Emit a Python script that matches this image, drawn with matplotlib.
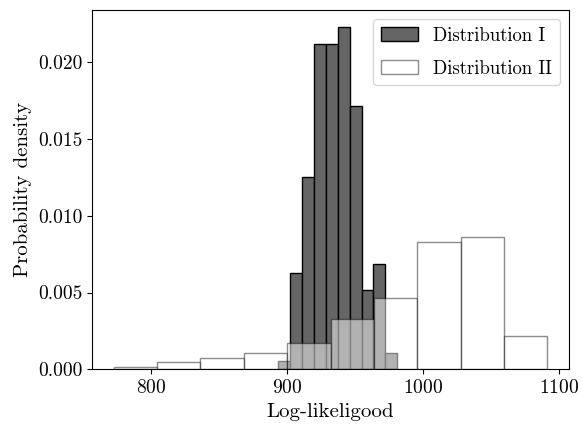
import numpy as np
import matplotlib
matplotlib.use("Agg")
import matplotlib.pyplot as plt

plt.rcParams["font.family"] = "serif"
plt.rcParams["font.serif"] = ["cmr10"]
plt.rcParams["mathtext.fontset"] = "cm"
plt.rcParams["axes.formatter.use_mathtext"] = True
plt.rcParams["font.size"] = 14

# histogram bins and densities for the two runs
edges_1 = np.linspace(893.7, 981.3, 11)
dens_1 = [0.00054, 0.00627, 0.01255, 0.02117, 0.02117,
          0.02229, 0.01716, 0.00515, 0.00684, 0.00108]

edges_2 = np.linspace(772.7, 1091.7, 11)
dens_2 = [0.00015, 0.00045, 0.00075, 0.00106, 0.00173,
          0.00327, 0.00465, 0.00829, 0.00861, 0.00216]

fig = plt.figure(figsize=(5.83, 4.26), dpi=100)
ax = fig.add_axes([0.158, 0.133, 0.818, 0.844])

ax.hist(edges_1[:-1], bins=edges_1, weights=dens_1,
        facecolor="#656565", edgecolor="black", linewidth=1.0,
        label="Distribution I")
ax.hist(edges_2[:-1], bins=edges_2, weights=dens_2,
        facecolor=(1, 1, 1, 0.5), edgecolor=(0, 0, 0, 0.45), linewidth=1.0,
        label="Distribution II")

ax.set_xticks([800, 900, 1000, 1100])
ax.set_yticks([0.0, 0.005, 0.010, 0.015, 0.020])
ax.set_yticklabels(["0.000", "0.005", "0.010", "0.015", "0.020"])
ax.set_xlabel("Log-likeligood", fontsize=15)
ax.set_ylabel("Probability density", fontsize=15)
ax.legend(loc="upper right", fontsize=13.5, labelspacing=0.8)

fig.savefig("out.png", dpi=100)
